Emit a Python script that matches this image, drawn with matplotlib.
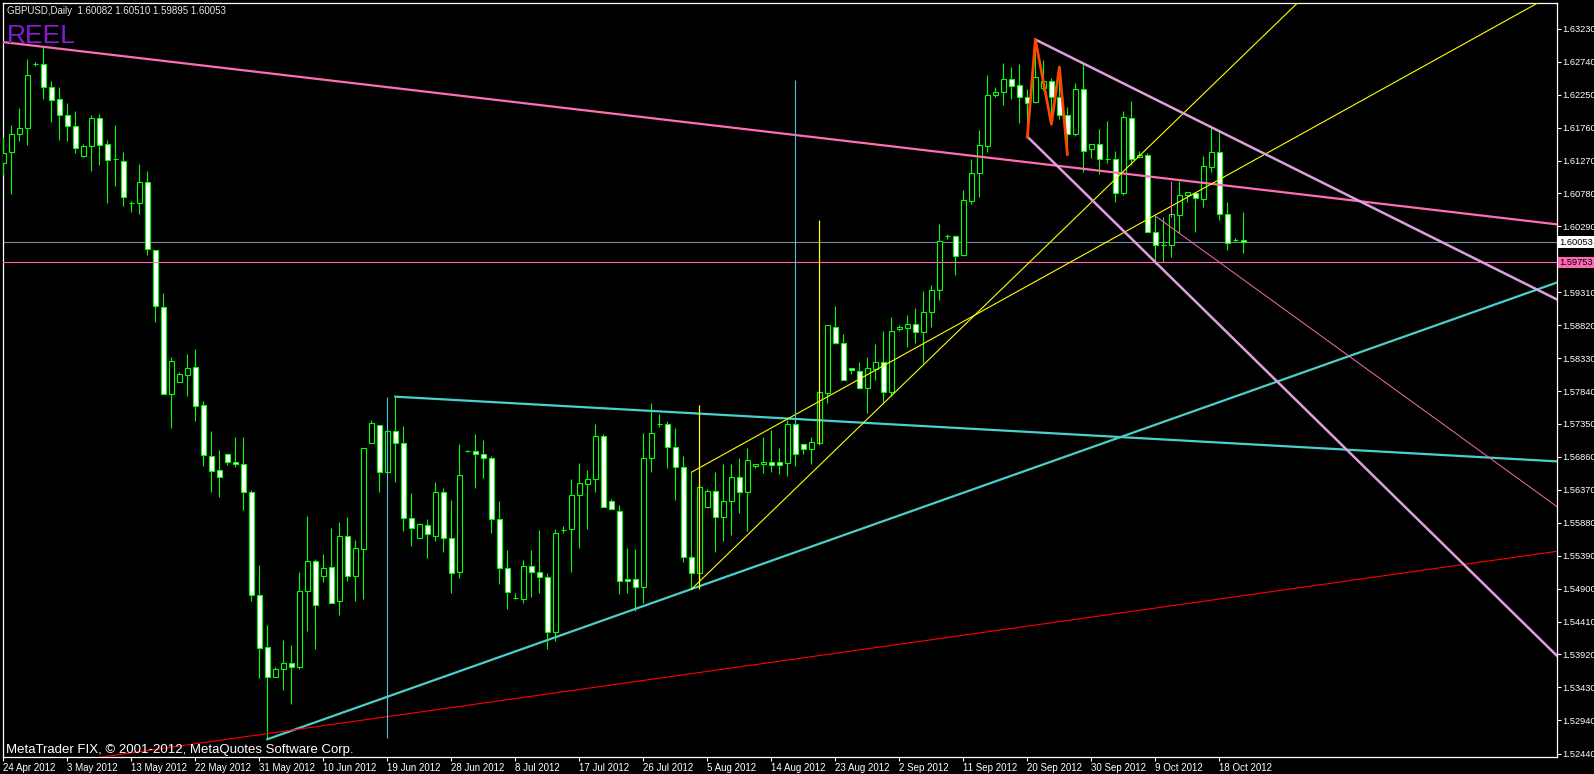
import numpy as np
import matplotlib.pyplot as plt

plt.rcParams['font.family'] = ['Liberation Sans', 'DejaVu Sans']

# daily GBPUSD candles, 24 Apr 2012 .. 22 Oct 2012 (broker has Sunday bars)
opens = [1.6124, 1.6140, 1.6166, 1.6176, 1.6271, 1.6271, 1.6237, 1.6219, 1.6194, 1.6179,
         1.6134, 1.6148, 1.6191, 1.6152, 1.6129, 1.6127, 1.6064, 1.6064, 1.6095, 1.5994,
         1.5909, 1.5779, 1.5797, 1.5808, 1.5820, 1.5763, 1.5687, 1.5666, 1.5690, 1.5678,
         1.5676, 1.5633, 1.5480, 1.5403, 1.5359, 1.5370, 1.5380, 1.5374, 1.5487, 1.5531,
         1.5508, 1.5522, 1.5471, 1.5568, 1.5508, 1.5549, 1.5706, 1.5733, 1.5664, 1.5724,
         1.5706, 1.5595, 1.5565, 1.5584, 1.5569, 1.5633, 1.5565, 1.5514, 1.5695, 1.5695,
         1.5691, 1.5685, 1.5593, 1.5520, 1.5476, 1.5475, 1.5523, 1.5514, 1.5507, 1.5425,
         1.5577, 1.5579, 1.5630, 1.5646, 1.5653, 1.5717, 1.5621, 1.5605, 1.5504, 1.5504,
         1.5492, 1.5684, 1.5735, 1.5735, 1.5701, 1.5671, 1.5537, 1.5513, 1.5611, 1.5635,
         1.5597, 1.5621, 1.5656, 1.5633, 1.5672, 1.5675, 1.5679, 1.5678, 1.5677, 1.5735,
         1.5705, 1.5697, 1.5707, 1.5781, 1.5880, 1.5856, 1.5818, 1.5814, 1.5788, 1.5817,
         1.5827, 1.5782, 1.5876, 1.5878, 1.5883, 1.5872, 1.5901, 1.5934, 1.6014, 1.6014,
         1.5986, 1.6067, 1.6108, 1.6149, 1.6225, 1.6229, 1.6248, 1.6239, 1.6221, 1.6214,
         1.6235, 1.6245, 1.6221, 1.6194, 1.6167, 1.6234, 1.6144, 1.6151, 1.6130, 1.6129,
         1.6078, 1.6191, 1.6132, 1.6135, 1.6020, 1.6002, 1.6001, 1.6046, 1.6076, 1.6079,
         1.6070, 1.6117, 1.6139, 1.6047, 1.6009, 1.60082]
highs = [1.6162, 1.6180, 1.6205, 1.6278, 1.6273, 1.6298, 1.6245, 1.6236, 1.6213, 1.6200,
         1.6152, 1.6194, 1.6196, 1.6157, 1.6180, 1.6140, 1.6067, 1.6122, 1.6111, 1.5994,
         1.5930, 1.5834, 1.5813, 1.5839, 1.5846, 1.5769, 1.5725, 1.5696, 1.5692, 1.5715,
         1.5715, 1.5637, 1.5525, 1.5436, 1.5374, 1.5414, 1.5406, 1.5514, 1.5598, 1.5534,
         1.5542, 1.5580, 1.5589, 1.5597, 1.5562, 1.5699, 1.5741, 1.5733, 1.5727, 1.5776,
         1.5732, 1.5632, 1.5588, 1.5593, 1.5648, 1.5639, 1.5622, 1.5705, 1.5696, 1.5720,
         1.5711, 1.5688, 1.5620, 1.5548, 1.5483, 1.5533, 1.5547, 1.5577, 1.5513, 1.5578,
         1.5583, 1.5653, 1.5677, 1.5667, 1.5735, 1.5720, 1.5623, 1.5614, 1.5550, 1.5549,
         1.5721, 1.5766, 1.5750, 1.5740, 1.5729, 1.5688, 1.5663, 1.5645, 1.5638, 1.5664,
         1.5675, 1.5675, 1.5684, 1.5699, 1.5675, 1.5716, 1.5726, 1.5699, 1.5741, 1.5741,
         1.5705, 1.5716, 1.5785, 1.5882, 1.5910, 1.5869, 1.5818, 1.5827, 1.5834, 1.5854,
         1.5873, 1.5894, 1.5882, 1.5897, 1.5907, 1.5933, 1.5942, 1.6032, 1.6017, 1.6016,
         1.6083, 1.6130, 1.6172, 1.6254, 1.6236, 1.6272, 1.6266, 1.6271, 1.6234, 1.6307,
         1.6277, 1.6250, 1.6267, 1.6207, 1.6242, 1.6272, 1.6151, 1.6174, 1.6186, 1.6141,
         1.6201, 1.6216, 1.6141, 1.6138, 1.6044, 1.6043, 1.6055, 1.6097, 1.6080, 1.6080,
         1.6134, 1.6176, 1.6170, 1.6065, 1.6011, 1.60510]
lows = [1.6105, 1.6077, 1.6156, 1.6150, 1.6268, 1.6218, 1.6184, 1.6158, 1.6156, 1.6138,
        1.6132, 1.6112, 1.6120, 1.6064, 1.6089, 1.6060, 1.6051, 1.6048, 1.5987, 1.5886,
        1.5779, 1.5729, 1.5797, 1.5776, 1.5739, 1.5673, 1.5634, 1.5627, 1.5674, 1.5671,
        1.5607, 1.5472, 1.5357, 1.5266, 1.5358, 1.5339, 1.5319, 1.5370, 1.5427, 1.5400,
        1.5500, 1.5469, 1.5451, 1.5502, 1.5471, 1.5474, 1.5706, 1.5634, 1.5662, 1.5649,
        1.5575, 1.5554, 1.5565, 1.5536, 1.5561, 1.5544, 1.5483, 1.5506, 1.5694, 1.5640,
        1.5655, 1.5572, 1.5497, 1.5459, 1.5474, 1.5468, 1.5477, 1.5484, 1.5400, 1.5412,
        1.5573, 1.5515, 1.5551, 1.5579, 1.5634, 1.5611, 1.5607, 1.5482, 1.5484, 1.5457,
        1.5469, 1.5664, 1.5730, 1.5670, 1.5622, 1.5529, 1.5489, 1.5503, 1.5610, 1.5545,
        1.5561, 1.5570, 1.5603, 1.5575, 1.5670, 1.5662, 1.5663, 1.5660, 1.5658, 1.5672,
        1.5690, 1.5675, 1.5704, 1.5766, 1.5854, 1.5801, 1.5810, 1.5787, 1.5752, 1.5800,
        1.5768, 1.5776, 1.5873, 1.5849, 1.5856, 1.5825, 1.5880, 1.5919, 1.6010, 1.5957,
        1.5985, 1.6063, 1.6072, 1.6140, 1.6222, 1.6209, 1.6219, 1.6183, 1.6162, 1.6212,
        1.6232, 1.6187, 1.6189, 1.6138, 1.6163, 1.6110, 1.6131, 1.6107, 1.6124, 1.6065,
        1.6075, 1.6120, 1.6132, 1.6020, 1.5973, 1.5976, 1.5983, 1.6019, 1.6066, 1.6020,
        1.6058, 1.6110, 1.6038, 1.5994, 1.6006, 1.59895]
closes = [1.6138, 1.6167, 1.6176, 1.6254, 1.6271, 1.6236, 1.6217, 1.6195, 1.6178, 1.6146,
          1.6149, 1.6191, 1.6150, 1.6128, 1.6129, 1.6072, 1.6064, 1.6095, 1.5996, 1.5910,
          1.5779, 1.5828, 1.5809, 1.5819, 1.5762, 1.5689, 1.5665, 1.5656, 1.5678, 1.5676,
          1.5633, 1.5480, 1.5402, 1.5359, 1.5371, 1.5380, 1.5374, 1.5487, 1.5531, 1.5465,
          1.5520, 1.5469, 1.5568, 1.5508, 1.5550, 1.5699, 1.5736, 1.5663, 1.5724, 1.5706,
          1.5595, 1.5580, 1.5586, 1.5571, 1.5633, 1.5565, 1.5513, 1.5659, 1.5695, 1.5691,
          1.5685, 1.5593, 1.5520, 1.5485, 1.5476, 1.5523, 1.5514, 1.5507, 1.5425, 1.5572,
          1.5577, 1.5630, 1.5647, 1.5653, 1.5717, 1.5612, 1.5609, 1.5501, 1.5501, 1.5492,
          1.5684, 1.5721, 1.5735, 1.5701, 1.5671, 1.5537, 1.5513, 1.5641, 1.5635, 1.5597,
          1.5620, 1.5656, 1.5633, 1.5681, 1.5675, 1.5679, 1.5674, 1.5674, 1.5735, 1.5690,
          1.5697, 1.5708, 1.5782, 1.5882, 1.5856, 1.5801, 1.5815, 1.5788, 1.5818, 1.5827,
          1.5783, 1.5873, 1.5880, 1.5883, 1.5872, 1.5901, 1.5934, 1.6007, 1.6014, 1.5985,
          1.6068, 1.6108, 1.6150, 1.6225, 1.6229, 1.6248, 1.6238, 1.6221, 1.6213, 1.6251,
          1.6245, 1.6221, 1.6194, 1.6167, 1.6234, 1.6141, 1.6151, 1.6130, 1.6130, 1.6078,
          1.6192, 1.6129, 1.6135, 1.6020, 1.6002, 1.6002, 1.6047, 1.6075, 1.6080, 1.6071,
          1.6119, 1.6139, 1.6047, 1.6004, 1.6009, 1.60053]

date_labels = ['24 Apr 2012', '3 May 2012', '13 May 2012', '22 May 2012', '31 May 2012',
               '10 Jun 2012', '19 Jun 2012', '28 Jun 2012', '8 Jul 2012', '17 Jul 2012',
               '26 Jul 2012', '5 Aug 2012', '14 Aug 2012', '23 Aug 2012', '2 Sep 2012',
               '11 Sep 2012', '20 Sep 2012', '30 Sep 2012', '9 Oct 2012', '18 Oct 2012']
price_labels = ['1.52440', '1.52940', '1.53430', '1.53920', '1.54410', '1.54900', '1.55390',
                '1.55880', '1.56370', '1.56860', '1.57350', '1.57840', '1.58330', '1.58820',
                '1.59310', '1.59800', '1.60290', '1.60780', '1.61270', '1.61760', '1.62250',
                '1.62740', '1.63230']

# drawn objects: (bar index, price) end points
pink_trend = ([-1, 194.2], [1.63046, 1.60320])
cyan_support = ([33, 194.2], [1.52658, 1.59455])
cyan_resist = ([49, 194.2], [1.57756, 1.56793])
red_line = ([0, 194.2], [1.52187, 1.55455])
yellow_flat = ([86, 194.2], [1.56631, 1.63773])
yellow_steep = ([86, 194.2], [1.54890, 1.67350])
plum_upper = ([129, 194.2], [1.63070, 1.59202])
plum_lower = ([128, 194.2], [1.61625, 1.53899])
pink_thin = ([144, 194.2], [1.60445, 1.56119])
zigzag_x = [128, 129, 131, 132, 133]
zigzag_y = [1.6162, 1.6307, 1.6181, 1.6266, 1.6136]
cyan_vlines = [(48, 1.52682, 1.57747), (99, 1.5736, 1.62468)]
yellow_vlines = [(87, 1.54890, 1.57632), (102, 1.5706, 1.60385)]
pink_vline = (146, 1.6043, 1.6096)
bid_price = 1.60053
pink_level = 1.59753

W, H = 1594, 774
fig = plt.figure(figsize=(W / 100, H / 100), dpi=100, facecolor='black')
ax = fig.add_axes([3 / W, 17 / H, 1554 / W, 754 / H])
ax.set_facecolor('black')

o = np.array(opens); h = np.array(highs); l = np.array(lows); c = np.array(closes)
x = np.arange(len(o))
green = '#00ff00'

ax.vlines(x, l, h, color=green, lw=0.8, zorder=3)
up = c >= o
ax.bar(x[up], (c - o)[up], bottom=o[up], width=0.62, facecolor='black',
       edgecolor=green, linewidth=0.8, zorder=4)
ax.bar(x[~up], (o - c)[~up], bottom=c[~up], width=0.62, facecolor='white',
       edgecolor=green, linewidth=0.8, zorder=4)

ax.axhline(bid_price, color='#7d8a98', lw=0.8, zorder=2)
ax.axhline(pink_level, color='#ff69b4', lw=0.8, zorder=5)

ax.plot(*pink_trend, color='#ff6eb4', lw=1.6, zorder=5)
ax.plot(*cyan_support, color='#48d1cc', lw=1.6, zorder=5)
ax.plot(*cyan_resist, color='#48d1cc', lw=1.6, zorder=5)
ax.plot(*red_line, color='#ff0000', lw=0.8, zorder=5)
ax.plot(*yellow_flat, color='#ffff00', lw=0.8, zorder=5)
ax.plot(*yellow_steep, color='#ffff00', lw=0.8, zorder=5)
ax.plot(*plum_upper, color='#dda0dd', lw=1.8, zorder=5)
ax.plot(*plum_lower, color='#dda0dd', lw=1.8, zorder=5)
ax.plot(*pink_thin, color='#ff69b4', lw=0.7, zorder=5)
ax.plot(zigzag_x, zigzag_y, color='#ff4500', lw=2.0, zorder=6)
for bx, y0, y1 in cyan_vlines:
    ax.vlines(bx, y0, y1, color='#48c8d8', lw=0.8, zorder=5)
for bx, y0, y1 in yellow_vlines:
    ax.vlines(bx, y0, y1, color='#ffff00', lw=0.9, zorder=5)
ax.vlines(pink_vline[0], pink_vline[1], pink_vline[2], color='#ff69b4', lw=0.7, zorder=5)

ax.set_xlim(-0.04, 194.2)
ax.set_ylim(1.52394, 1.63614)

ax.set_xticks(np.arange(0, len(date_labels) * 8, 8))
ax.set_xticklabels(date_labels, ha='left')
ax.yaxis.tick_right()
ax.set_yticks([float(p) for p in price_labels])
ax.set_yticklabels(price_labels)
ax.tick_params(colors='white', labelsize=7, length=3, width=0.8, pad=2)
ax.tick_params(axis='y', labelsize=6.7, pad=1)
ax.tick_params(axis='x', pad=1.5)
for s in ax.spines.values():
    s.set_color('white')
    s.set_linewidth(0.9)

def fx(px):
    return px / W

def fy(py):
    return 1 - py / H

fig.text(fx(7), fy(10.5), 'GBPUSD,Daily  1.60082 1.60510 1.59895 1.60053',
         color='#e6e6e6', fontsize=7, va='center')
fig.text(fx(7), fy(43), 'REEL', color='#8a1ad8', fontsize=19, va='baseline',
         stretch='condensed')
fig.text(fx(6), fy(750.5), 'MetaTrader FIX, \u00a9 2001-2012, MetaQuotes Software Corp.',
         color='white', fontsize=9.5, va='center')

def price_box(price, text, face):
    py = 28 + (1.63242 - price) / 0.0001488
    fig.text(fx(1559), fy(py), text, color='black', fontsize=6.7, va='center', ha='left',
             zorder=10, bbox=dict(boxstyle='square,pad=0.15', facecolor=face, edgecolor='none'))

price_box(bid_price, '1.60053', 'white')
price_box(pink_level, '1.59753', '#ff69b4')

fig.savefig('out.png', dpi=100, facecolor='black')
